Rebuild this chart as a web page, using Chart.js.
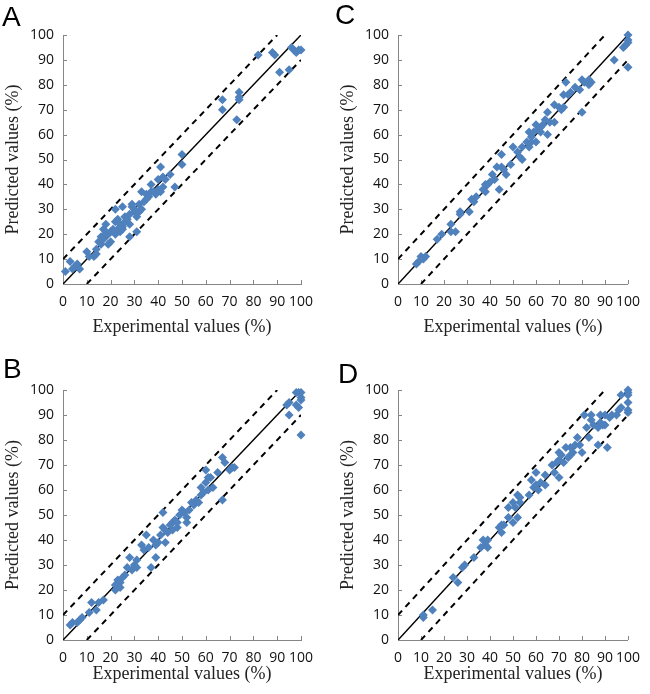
<!DOCTYPE html>
<html lang="en">
<head>
    <meta charset="UTF-8">
    <title>Predicted vs experimental values</title>
    <script src="https://cdn.jsdelivr.net/npm/chart.js"></script>
    <style>
        body { margin: 0; background: #fff; }
        .wrap { position: relative; width: 650px; height: 694px; }
        canvas { position: absolute; }
        .lbl { position: absolute; font: 28px/28px "Liberation Sans", Arial, sans-serif; color: #000; }
    </style>
</head>
<body>
<div class="wrap">
    <canvas id="chartA" width="325" height="347" style="left:0;top:0"></canvas>
    <canvas id="chartC" width="325" height="347" style="left:325px;top:0"></canvas>
    <canvas id="chartB" width="325" height="347" style="left:0;top:347px"></canvas>
    <canvas id="chartD" width="325" height="347" style="left:325px;top:347px"></canvas>
    <div class="lbl" style="left:2px;top:3px">A</div>
    <div class="lbl" style="left:335px;top:1px">C</div>
    <div class="lbl" style="left:3px;top:355px">B</div>
    <div class="lbl" style="left:338px;top:360px">D</div>
</div>
<script>
    // panel A
    const aExp  = [1, 3, 4, 5, 6, 7, 10, 11, 13, 14, 14, 15, 16, 16, 17, 17, 18, 18, 18, 19, 19, 20, 20, 21, 22, 22, 22, 23, 23, 24, 24, 25, 25, 25, 26, 26, 27, 28, 28, 28, 29, 29, 30, 30, 31, 31, 32, 32, 33, 33, 34, 35, 35, 36, 37, 37, 38, 39, 40, 40, 41, 41, 42, 42, 43, 45, 47, 50, 50, 67, 67, 73, 74, 74, 74, 82, 88, 89, 91, 95, 96, 97, 98, 99, 100];
    const aPred = [5, 9, 6, 7, 8, 6, 13, 11, 11, 12, 14, 17, 16, 19, 22, 18, 20, 24, 21, 16, 20, 17, 21, 22, 30, 20, 25, 26, 22, 21, 24, 23, 31, 22, 25, 27, 26, 28, 19, 24, 31, 32, 29, 30, 21, 27, 32, 29, 37, 30, 33, 36, 34, 35, 40, 37, 37, 36, 38, 42, 47, 37, 39, 43, 42, 44, 39, 52, 48, 74, 70, 66, 77, 74, 75, 92, 93, 92, 85, 86, 95, 94, 93, 94, 94];

    // panel B
    const bExp  = [3, 4, 6, 7, 8, 11, 12, 14, 15, 17, 22, 22, 23, 24, 24, 25, 26, 27, 28, 29, 30, 31, 31, 33, 34, 35, 36, 37, 38, 39, 39, 40, 41, 42, 42, 43, 43, 44, 45, 46, 46, 47, 48, 48, 49, 50, 51, 52, 52, 53, 54, 55, 56, 57, 58, 58, 59, 60, 60, 61, 61, 62, 63, 65, 67, 67, 68, 70, 71, 72, 94, 95, 95, 98, 99, 100, 98, 99, 100, 100, 100];
    const bPred = [6, 7, 7, 8, 9, 11, 15, 12, 15, 16, 20, 22, 24, 21, 23, 25, 26, 29, 33, 28, 30, 32, 29, 38, 36, 42, 37, 29, 40, 33, 38, 39, 42, 51, 45, 39, 44, 43, 46, 44, 47, 48, 45, 47, 50, 52, 51, 47, 49, 52, 55, 54, 56, 55, 58, 61, 59, 68, 63, 60, 65, 65, 61, 67, 73, 56, 71, 68, 69, 69, 94, 95, 90, 99, 99, 99, 94, 93, 96, 97, 82];

    // panel C
    const cExp  = [8, 9, 10, 11, 12, 17, 19, 23, 23, 25, 27, 27, 31, 32, 33, 34, 37, 38, 38, 39, 40, 41, 42, 43, 44, 45, 45, 46, 47, 49, 50, 52, 53, 54, 54, 56, 57, 57, 58, 58, 59, 60, 60, 61, 62, 62, 63, 64, 65, 65, 66, 68, 68, 70, 71, 72, 72, 73, 74, 75, 77, 79, 80, 80, 81, 83, 84, 83, 94, 98, 99, 100, 100, 100, 100];
    const cPred = [8, 9, 11, 10, 11, 18, 20, 24, 21, 21, 29, 28, 29, 34, 33, 35, 38, 40, 37, 40, 41, 44, 42, 47, 38, 52, 47, 46, 44, 48, 55, 53, 51, 55, 50, 57, 55, 61, 59, 57, 61, 57, 64, 62, 63, 61, 64, 66, 69, 60, 65, 72, 65, 71, 70, 76, 71, 81, 76, 77, 79, 78, 69, 82, 81, 80, 81, 82, 90, 95, 96, 100, 98, 97, 87];

    // panel D
    const dExp  = [11, 11, 15, 24, 26, 28, 29, 33, 36, 37, 38, 39, 39, 44, 45, 45, 46, 48, 48, 50, 50, 51, 52, 52, 53, 53, 57, 58, 59, 60, 60, 61, 62, 64, 64, 67, 68, 69, 70, 70, 70, 71, 72, 73, 74, 75, 75, 76, 77, 78, 79, 80, 81, 82, 83, 84, 84, 85, 87, 87, 88, 88, 89, 90, 90, 91, 92, 93, 95, 96, 97, 97, 100, 100, 100, 100, 100, 100];
    const dPred = [9, 10, 12, 25, 23, 29, 30, 33, 37, 40, 38, 40, 37, 45, 43, 46, 46, 53, 49, 47, 55, 53, 58, 49, 57, 55, 58, 64, 61, 67, 62, 60, 63, 66, 62, 70, 67, 71, 75, 65, 72, 74, 71, 77, 73, 77, 74, 75, 78, 81, 78, 75, 90, 85, 81, 88, 90, 86, 78, 85, 90, 87, 86, 90, 86, 77, 89, 90, 90, 92, 98, 93, 100, 99, 98, 95, 92, 91];

    // reference lines: y = x and +/- 10
    const idX = [0, 100], idY = [0, 100];
    const upX = [0, 90], upY = [10, 100];
    const loX = [10, 100], loY = [0, 90];

    const pts = (xs, ys) => xs.map((x, i) => ({ x: x, y: ys[i] }));

    const innerTicks = {
        id: 'innerTicks',
        beforeDatasetsDraw(chart) {
            const ctx = chart.ctx, sx = chart.scales.x, sy = chart.scales.y;
            ctx.save();
            ctx.strokeStyle = '#868686';
            ctx.lineWidth = 1;
            ctx.beginPath();
            sx.ticks.forEach(t => {
                const px = Math.round(sx.getPixelForValue(t.value)) + 0.5;
                ctx.moveTo(px, sy.bottom);
                ctx.lineTo(px, sy.bottom - 4);
            });
            sy.ticks.forEach(t => {
                const py = Math.round(sy.getPixelForValue(t.value)) + 0.5;
                ctx.moveTo(sx.left, py);
                ctx.lineTo(sx.left + 4, py);
            });
            ctx.stroke();
            ctx.restore();
        }
    };

    const tickFont = { family: '"Open Sans", sans-serif', size: 14 };
    const titleFont = { family: '"Liberation Serif", "Times New Roman", serif', size: 18 };

    function makeChart(id, exp, pred, box) {
        return new Chart(document.getElementById(id), {
            type: 'scatter',
            data: {
                datasets: [
                    {
                        data: pts(exp, pred),
                        pointStyle: 'rectRot',
                        pointRadius: 4.5,
                        backgroundColor: '#4F81BD',
                        borderColor: '#4F81BD',
                        borderWidth: 0,
                        clip: false,
                        order: 0
                    },
                    {
                        data: pts(idX, idY), showLine: true, pointRadius: 0,
                        borderColor: '#000', borderWidth: 1.5, order: 1
                    },
                    {
                        data: pts(upX, upY), showLine: true, pointRadius: 0,
                        borderColor: '#000', borderWidth: 2, borderDash: [6, 5], order: 1
                    },
                    {
                        data: pts(loX, loY), showLine: true, pointRadius: 0,
                        borderColor: '#000', borderWidth: 2, borderDash: [6, 5], order: 1
                    }
                ]
            },
            options: {
                responsive: false,
                animation: false,
                layout: { padding: { left: box.padLeft, right: 325 - box.right, top: box.top, bottom: 0 } },
                plugins: { legend: { display: false }, tooltip: { enabled: false } },
                scales: {
                    x: {
                        type: 'linear', min: 0, max: 100,
                        grid: { display: false, drawTicks: false },
                        border: { color: '#868686', width: 1 },
                        ticks: { stepSize: 10, autoSkip: false, maxRotation: 0, padding: 10, font: tickFont, color: '#111' },
                        title: { display: true, text: 'Experimental values (%)', font: titleFont, color: '#222', padding: { top: 0, bottom: 9 } },
                        afterFit: s => { s.height = 347 - box.bottom; }
                    },
                    y: {
                        type: 'linear', min: 0, max: 100,
                        grid: { display: false, drawTicks: false },
                        border: { color: '#868686', width: 1 },
                        ticks: { stepSize: 10, autoSkip: false, padding: 9, font: tickFont, color: '#111' },
                        title: { display: true, text: 'Predicted values (%)', font: titleFont, color: '#222', padding: { top: 2, bottom: 0 } },
                        afterFit: s => { s.width = box.left - box.padLeft; }
                    }
                }
            },
            plugins: [innerTicks]
        });
    }

    makeChart('chartA', aExp, aPred, { padLeft: 0, left: 63, right: 301, top: 35, bottom: 284 });
    makeChart('chartC', cExp, cPred, { padLeft: 10, left: 73, right: 310, top: 35, bottom: 284 });
    makeChart('chartB', bExp, bPred, { padLeft: 0, left: 63, right: 301, top: 43, bottom: 293 });
    makeChart('chartD', dExp, dPred, { padLeft: 10, left: 73, right: 310, top: 43, bottom: 293 });
</script>
</body>
</html>
